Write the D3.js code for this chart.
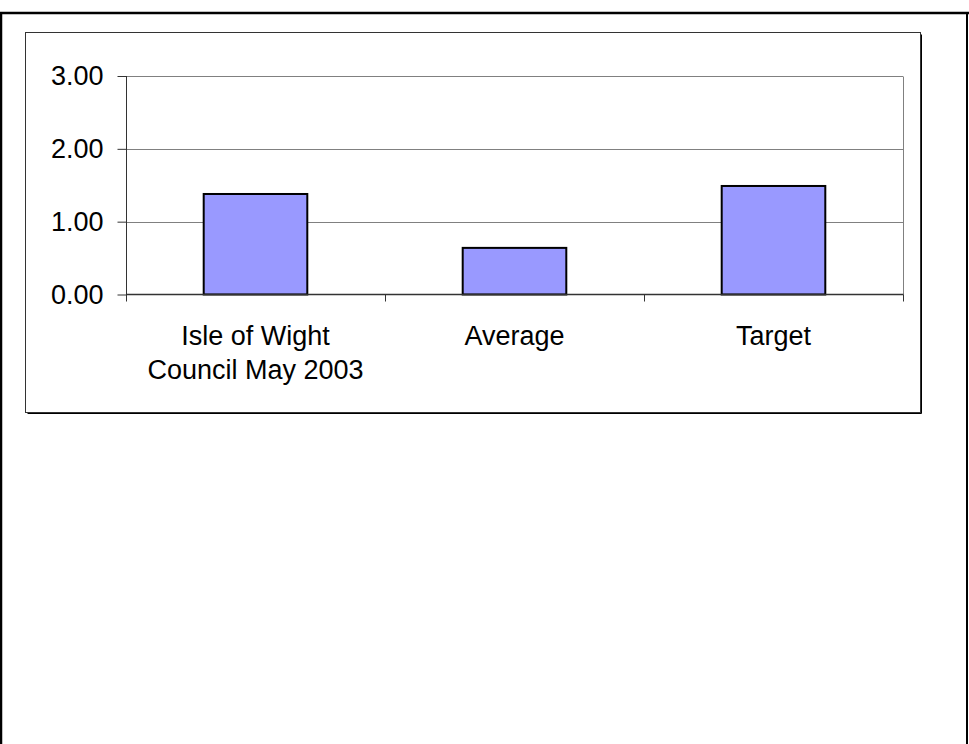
<!DOCTYPE html>
<html>
<head>
<meta charset="utf-8">
<script src="https://cdn.jsdelivr.net/npm/d3@7"></script>
<style>
  html, body { margin: 0; padding: 0; background: #fff; }
  svg { display: block; font-family: "Liberation Sans", Arial, sans-serif; }
</style>
</head>
<body>
<svg id="chart" width="969" height="744"></svg>
<script>
// Chart data
const categories = ["Isle of Wight\nCouncil May 2003", "Average", "Target"];
const values = [1.38, 0.64, 1.49];
const yTicks = [0, 1, 2, 3];
const yTickLabels = ["0.00", "1.00", "2.00", "3.00"];

const svg = d3.select("#chart");

// Outer page frame
svg.append("line").attr("x1", 1).attr("x2", 1).attr("y1", 12).attr("y2", 744)
  .attr("stroke", "#000").attr("stroke-width", 2.5);
svg.append("line").attr("x1", 0).attr("x2", 969).attr("y1", 13).attr("y2", 13)
  .attr("stroke", "#000").attr("stroke-width", 2.5);
svg.append("line").attr("x1", 967).attr("x2", 967).attr("y1", 12).attr("y2", 744)
  .attr("stroke", "#000").attr("stroke-width", 2);

// Chart area box with a small shadow on the right and bottom
const box = { x: 25.5, y: 32.5, w: 895, h: 380 };
svg.append("line").attr("x1", box.x + 2).attr("x2", box.x + box.w + 1)
  .attr("y1", box.y + box.h + 1).attr("y2", box.y + box.h + 1)
  .attr("stroke", "#000").attr("stroke-width", 1);
svg.append("line").attr("x1", box.x + box.w + 1).attr("x2", box.x + box.w + 1)
  .attr("y1", box.y + 2).attr("y2", box.y + box.h + 1)
  .attr("stroke", "#000").attr("stroke-width", 1);
svg.append("rect").attr("x", box.x).attr("y", box.y)
  .attr("width", box.w).attr("height", box.h)
  .attr("fill", "#fff").attr("stroke", "#333").attr("stroke-width", 1);

// Plot area
const plot = { left: 126, right: 903, top: 76, bottom: 294.5 };

const y = d3.scaleLinear().domain([0, 3]).range([plot.bottom, plot.top]);
const x = d3.scaleBand().domain(categories)
  .range([plot.left, plot.right])
  .paddingInner(0.6).paddingOuter(0.3);

// Horizontal gridlines
svg.append("g").selectAll("line").data(yTicks.filter(d => d > 0)).join("line")
  .attr("x1", plot.left).attr("x2", plot.right)
  .attr("y1", d => Math.round(y(d)) + 0.5).attr("y2", d => Math.round(y(d)) + 0.5)
  .attr("stroke", "#808080").attr("stroke-width", 1);

// Plot area right edge
svg.append("line").attr("x1", plot.right + 0.5).attr("x2", plot.right + 0.5)
  .attr("y1", Math.round(y(3)) + 0.5).attr("y2", plot.bottom)
  .attr("stroke", "#808080").attr("stroke-width", 1);

// Bars
svg.append("g").selectAll("rect").data(values).join("rect")
  .attr("x", (d, i) => x(categories[i]))
  .attr("y", d => y(d))
  .attr("width", x.bandwidth())
  .attr("height", d => y(0) - y(d))
  .attr("fill", "#9999FF")
  .attr("stroke", "#000").attr("stroke-width", 2);

// Y axis
const yAxis = d3.axisLeft(y).tickValues(yTicks)
  .tickFormat((d, i) => yTickLabels[i]).tickSize(9).tickPadding(14);
const gy = svg.append("g").attr("transform", `translate(${plot.left + 0.5},0)`).call(yAxis);
gy.select(".domain").attr("stroke", "#333").attr("d", `M0,${plot.top}V${plot.bottom + 1}`);
gy.selectAll(".tick line").attr("stroke", "#333");
gy.selectAll(".tick text").attr("font-size", 27).attr("fill", "#000")
  .attr("font-family", "'Liberation Sans', Arial, sans-serif");

// X axis: tick marks sit on the category boundaries
const step = x.step();
const boundaries = d3.range(categories.length + 1).map(i => plot.left + i * step);
const gx = svg.append("g");
gx.append("line").attr("x1", plot.left).attr("x2", plot.right + 0.5)
  .attr("y1", plot.bottom).attr("y2", plot.bottom)
  .attr("stroke", "#333").attr("stroke-width", 1.5);
gx.selectAll("line.tick").data(boundaries).join("line").attr("class", "tick")
  .attr("x1", d => Math.round(d) + 0.5).attr("x2", d => Math.round(d) + 0.5)
  .attr("y1", plot.bottom).attr("y2", plot.bottom + 7)
  .attr("stroke", "#333").attr("stroke-width", 1);

// Category labels (multi-line where the name contains a line break)
const labels = svg.append("g").selectAll("text").data(categories).join("text")
  .attr("x", d => x(d) + x.bandwidth() / 2)
  .attr("y", 345)
  .attr("text-anchor", "middle")
  .attr("font-size", 27)
  .attr("fill", "#000");
labels.each(function(d) {
  const lines = d.split("\n");
  d3.select(this).selectAll("tspan").data(lines).join("tspan")
    .attr("x", x(d) + x.bandwidth() / 2)
    .attr("dy", (l, i) => i === 0 ? 0 : 34)
    .text(l => l);
});
</script>
</body>
</html>
